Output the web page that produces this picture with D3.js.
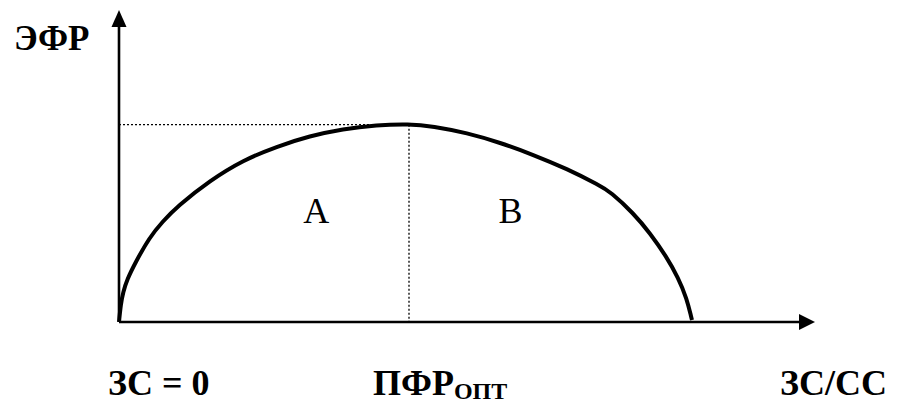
<!DOCTYPE html>
<html>
<head>
<meta charset="utf-8">
<script src="https://cdn.jsdelivr.net/npm/d3@7"></script>
<style>
  body { margin: 0; background: #fff; }
  text { font-family: "Liberation Serif", "Times New Roman", serif; fill: #000; }
</style>
</head>
<body>
<svg width="897" height="403"></svg>
<script>
// curve points (relative units)
var curveX = [0, 0.03, 0.07, 0.14, 0.28, 0.53, 0.75, 1.0, 1.57, 2.14, 2.72, 3.29, 3.86, 4.44, 5.0, 5.41, 6.0, 6.57, 7.14, 7.72, 8.29, 8.47, 8.87, 9.16, 9.44, 9.64, 9.79, 9.87, 9.88];
var curveY = [0, 0.45, 0.76, 1.09, 1.52, 2.18, 2.57, 2.96, 3.63, 4.15, 4.50, 4.77, 4.95, 5.05, 5.08, 5.02, 4.85, 4.60, 4.29, 3.93, 3.50, 3.34, 2.79, 2.27, 1.67, 1.14, 0.60, 0.10, 0.05];

// optimum point
var optX = 5.0,
    optY = 5.06;

var axisLabelY = "ЭФР";
var bottomLabels = [
  { text: "ЗС = 0", sub: "" },
  { text: "ПФР", sub: "ОПТ" },
  { text: "ЗС/СС", sub: "" }
];
var areaLabels = [
  { x: 3.4, y: 2.55, text: "A" },
  { x: 6.75, y: 2.55, text: "B" }
];

var svg = d3.select("svg");

var x = d3.scaleLinear().domain([0, 12]).range([119, 815]);
var y = d3.scaleLinear().domain([0, 8]).range([322, 10]);

var points = curveX.map(function(d, i) { return [d, curveY[i]]; });

// dotted guides
svg.append("line")
  .attr("x1", x(0)).attr("y1", y(optY))
  .attr("x2", x(optX)).attr("y2", y(optY))
  .attr("stroke", "#000").attr("stroke-width", 1.3)
  .attr("stroke-dasharray", "2,2");

svg.append("line")
  .attr("x1", x(optX)).attr("y1", y(optY))
  .attr("x2", x(optX)).attr("y2", y(0))
  .attr("stroke", "#000").attr("stroke-width", 1.3)
  .attr("stroke-dasharray", "2,2");

// axes
svg.append("line")
  .attr("x1", x(0)).attr("y1", y(0))
  .attr("x2", x(12) - 14).attr("y2", y(0))
  .attr("stroke", "#000").attr("stroke-width", 2.6);

svg.append("line")
  .attr("x1", x(0)).attr("y1", y(0))
  .attr("x2", x(0)).attr("y2", y(8) + 14)
  .attr("stroke", "#000").attr("stroke-width", 2.6);

// arrow heads
svg.append("path")
  .attr("d", "M" + x(12) + "," + y(0) + "L" + (x(12) - 16) + "," + (y(0) - 8) + "L" + (x(12) - 16) + "," + (y(0) + 8) + "Z")
  .attr("fill", "#000");

svg.append("path")
  .attr("d", "M" + x(0) + "," + y(8) + "L" + (x(0) - 7.5) + "," + (y(8) + 17) + "L" + (x(0) + 7.5) + "," + (y(8) + 17) + "Z")
  .attr("fill", "#000");

// the curve
var line = d3.line()
  .x(function(d) { return x(d[0]); })
  .y(function(d) { return y(d[1]); })
  .curve(d3.curveBasis);

svg.append("path")
  .datum(points)
  .attr("d", line)
  .attr("fill", "none")
  .attr("stroke", "#000")
  .attr("stroke-width", 4);

// labels
svg.append("text")
  .attr("x", 14).attr("y", 50)
  .attr("font-size", 35).attr("font-weight", "bold")
  .text(axisLabelY);

areaLabels.forEach(function(d) {
  svg.append("text")
    .attr("x", x(d.x)).attr("y", y(d.y))
    .attr("text-anchor", "middle")
    .attr("font-size", 36)
    .text(d.text);
});

var bx = [108, 373, 780];
bottomLabels.forEach(function(d, i) {
  var t = svg.append("text")
    .attr("x", bx[i]).attr("y", 395)
    .attr("font-size", 36).attr("font-weight", "bold")
    .text(d.text);
  if (d.sub) {
    t.append("tspan")
      .attr("dy", 4)
      .attr("font-size", 24)
      .text(d.sub);
  }
});
</script>
</body>
</html>
